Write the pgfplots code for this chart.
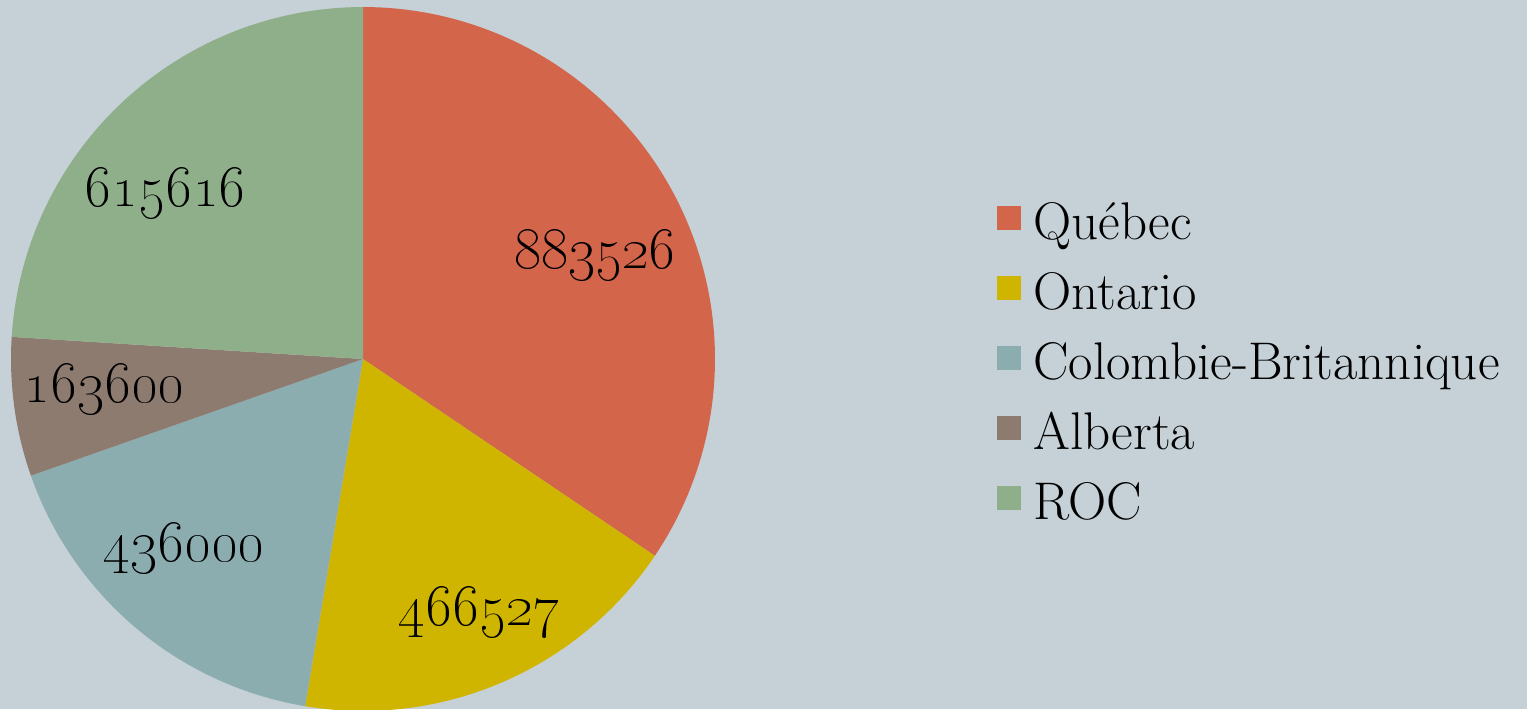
\documentclass[border=0pt]{standalone}
\usepackage{pgfplots}
\pgfplotsset{compat=1.18}
\definecolor{bg}{HTML}{C5D1D7}
\definecolor{cQ}{HTML}{D3654A}
\definecolor{cO}{HTML}{CFB500}
\definecolor{cC}{HTML}{8BADAF}
\definecolor{cA}{HTML}{8D7B70}
\definecolor{cR}{HTML}{8FAF8A}
% data
\def\vQ{883526}
\def\vO{466527}
\def\vC{436000}
\def\vA{163600}
\def\vR{615616}
\edef\total{\fpeval{\vQ+\vO+\vC+\vA+\vR}}
\edef\aS{90}
\edef\aQ{\fpeval{\aS-360*\vQ/\total}}
\edef\aO{\fpeval{\aQ-360*\vO/\total}}
\edef\aC{\fpeval{\aO-360*\vC/\total}}
\edef\aA{\fpeval{\aC-360*\vA/\total}}
\edef\aR{\fpeval{\aA-360*\vR/\total}}
\def\cx{363}\def\cy{350}\def\rr{352}
\begin{document}
\begin{tikzpicture}
\useasboundingbox (0,0) rectangle (763.5pt,354.5pt);
\fill[bg] (0,0) rectangle (763.5pt,354.5pt);
\begin{axis}[
  at={(0,0)}, anchor=south west,
  scale only axis, width=763.5pt, height=354.5pt,
  xmin=0, xmax=1527, ymin=0, ymax=709,
  hide axis,
  legend cell align=left,
  legend image code/.code={\fill[#1,draw=none] (0pt,-1.5pt) rectangle (12pt,10.5pt);},
  legend style={at={(axis cs:991,508)}, anchor=north west, draw=none, fill=none,
    font=\fontsize{26.5}{31}\selectfont, row sep=13pt, column sep=6pt,
    nodes={inner sep=0pt, text height=17pt, text depth=5pt}},
]
\addplot[fill=cQ, draw=none, domain=\aQ:\aS, samples=90, variable=\t]
  ({\cx+\rr*cos(\t)}, {\cy+\rr*sin(\t)}) -- (\cx,\cy) -- cycle;
\addlegendentry{Québec}
\addplot[fill=cO, draw=none, domain=\aO:\aQ, samples=60, variable=\t]
  ({\cx+\rr*cos(\t)}, {\cy+\rr*sin(\t)}) -- (\cx,\cy) -- cycle;
\addlegendentry{Ontario}
\addplot[fill=cC, draw=none, domain=\aC:\aO, samples=60, variable=\t]
  ({\cx+\rr*cos(\t)}, {\cy+\rr*sin(\t)}) -- (\cx,\cy) -- cycle;
\addlegendentry{Colombie-Britannique}
\addplot[fill=cA, draw=none, domain=\aA:\aC, samples=30, variable=\t]
  ({\cx+\rr*cos(\t)}, {\cy+\rr*sin(\t)}) -- (\cx,\cy) -- cycle;
\addlegendentry{Alberta}
\addplot[fill=cR, draw=none, domain=\aR:\aA, samples=60, variable=\t]
  ({\cx+\rr*cos(\t)}, {\cy+\rr*sin(\t)}) -- (\cx,\cy) -- cycle;
\addlegendentry{ROC}
\begin{scope}[every node/.style={font=\fontsize{28}{33}\selectfont, inner sep=0pt}]
\node at (axis cs:595,454) {\oldstylenums{883526}};
\node at (axis cs:479,97) {\oldstylenums{466527}};
\node at (axis cs:184,161) {\oldstylenums{436000}};
\node at (axis cs:104,320) {\oldstylenums{163600}};
\node at (axis cs:165,516) {\oldstylenums{615616}};
\end{scope}
\end{axis}
\end{tikzpicture}
\end{document}
